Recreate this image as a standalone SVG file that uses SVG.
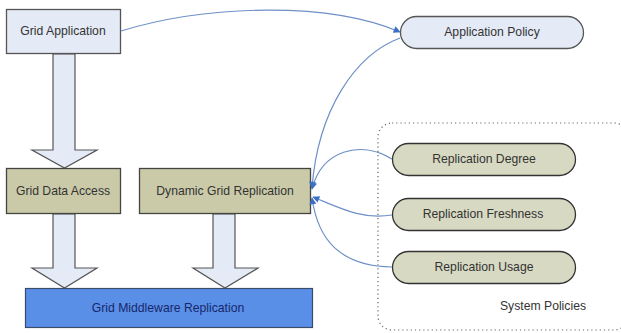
<svg xmlns="http://www.w3.org/2000/svg" width="621" height="333" viewBox="0 0 621 333">
<defs>
<marker id="ah" viewBox="0 0 10 10" refX="9" refY="5" markerWidth="8" markerHeight="7" orient="auto" markerUnits="userSpaceOnUse">
<path d="M0,0 L10,5 L0,10 z" fill="#3d6fc4"/>
</marker>
<style>
text{font-family:"Liberation Sans",Arial,sans-serif;font-size:12.2px;fill:#333;text-anchor:middle;dominant-baseline:central}
.blue{fill:#e4eaf6;stroke:#555;stroke-width:1.3}
.olive{fill:#cacaa9;stroke:#444;stroke-width:1.3}
.pill{fill:#d8d9c2;stroke:#333;stroke-width:1.3}
.barrow{fill:#e4eaf6;stroke:#555;stroke-width:1.2}
.conn{fill:none;stroke:#6e90c8;stroke-width:1.2}
</style>
</defs>
<rect width="621" height="333" fill="#fff"/>
<g id="system-policies">
<rect x="378" y="123" width="250" height="207" rx="14" fill="none" stroke="#666" stroke-width="1.2" stroke-dasharray="1.2,3"/>
<text x="543" y="306">System Policies</text>
</g>
<g id="block-arrows">
<polygon class="barrow" points="53,54 75,54 75,150 97,150 64.5,168 32,150 53,150"/>
<polygon class="barrow" points="53,214 75,214 75,268 97,268 64.5,288 32,268 53,268"/>
<polygon class="barrow" points="213,214 235,214 235,268 258,268 225,288 193,268 213,268"/>
</g>
<g id="grid-application">
<rect class="blue" x="6.5" y="9.5" width="114" height="44"/>
<text x="63" y="31">Grid Application</text>
</g>
<g id="grid-data-access">
<rect class="olive" x="6.5" y="168.5" width="114" height="45"/>
<text x="63" y="191">Grid Data Access</text>
</g>
<g id="dynamic-grid-replication">
<rect class="olive" x="139.5" y="168.5" width="171" height="45"/>
<text x="225" y="191">Dynamic Grid Replication</text>
</g>
<g id="grid-middleware-replication">
<rect x="25.5" y="288.5" width="287" height="39" fill="#5a8fe8" stroke="#3a4a6a" stroke-width="1.2"/>
<text x="168" y="308" style="fill:#16286a">Grid Middleware Replication</text>
</g>
<g id="application-policy">
<rect class="blue" x="400.5" y="16.5" width="183" height="32" rx="16"/>
<text x="492" y="32">Application Policy</text>
</g>
<g id="replication-degree">
<rect class="pill" x="392.5" y="143.5" width="183" height="32" rx="16"/>
<text x="484" y="159">Replication Degree</text>
</g>
<g id="replication-freshness">
<rect class="pill" x="392.5" y="198.5" width="183" height="32" rx="16"/>
<text x="483" y="214">Replication Freshness</text>
</g>
<g id="replication-usage">
<rect class="pill" x="392.5" y="251.5" width="183" height="32" rx="16"/>
<text x="484" y="267">Replication Usage</text>
</g>
<g id="connectors">
<path class="conn" d="M121,31 C210,4 330,2 400,32" marker-end="url(#ah)"/>
<path class="conn" d="M400,38 C355,55 318,110 312,188" marker-end="url(#ah)"/>
<path class="conn" d="M392,159 C360,140 322,150 312,189" marker-end="url(#ah)"/>
<path class="conn" d="M392,215 C362,220 340,208 313,197" marker-end="url(#ah)"/>
<path class="conn" d="M392,267 C340,266 318,240 312,198" marker-end="url(#ah)"/>
</g>
</svg>
